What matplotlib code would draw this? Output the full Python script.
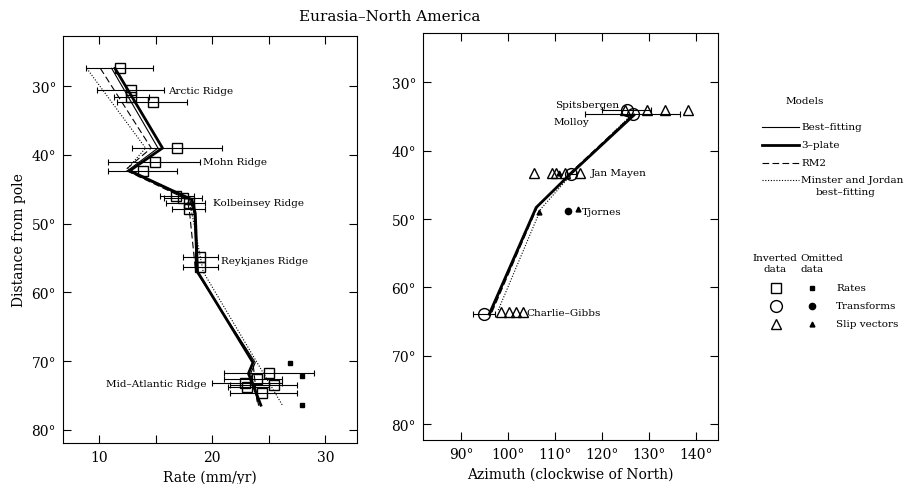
import matplotlib
matplotlib.use("Agg")
import matplotlib.pyplot as plt
from matplotlib.lines import Line2D

plt.rcParams['font.family'] = ['DejaVu Serif']
plt.rcParams['font.size'] = 9

# ---- left panel: spreading rates (lat = distance from pole, deg) ----
rate_lat = [27.4, 30.5, 31.5, 32.3, 39.0, 41.0, 42.4, 46.0, 46.3, 47.0, 47.9,
            54.9, 56.3, 71.7, 72.6, 73.2, 73.5, 73.8, 74.6]
rate_val = [11.8, 12.8, 12.8, 14.8, 16.9, 14.9, 13.9, 16.8, 17.4, 17.9, 17.9,
            18.9, 18.9, 25.0, 24.0, 22.9, 25.5, 23.1, 24.4]
rate_lo = [8.8, 9.8, 11.3, 11.6, 12.9, 10.8, 10.8, 15.4, 15.7, 15.9, 16.4,
           17.4, 17.4, 21.0, 21.0, 20.0, 21.6, 21.4, 21.6]
rate_hi = [14.8, 15.7, 14.4, 17.8, 20.9, 18.9, 16.9, 18.4, 19.1, 19.4, 19.4,
           20.5, 20.5, 29.0, 26.2, 26.2, 27.5, 25.0, 27.5]
omit_rate_lat = [70.2, 72.1, 76.4]
omit_rate_val = [26.9, 27.9, 27.9]

# model rate curves: (lat list, rate list)
best_rate = ([27.4, 39.0, 42.3, 46.5, 48.5, 57.0, 70.2, 71.8, 76.4],
             [11.1, 15.2, 12.5, 18.0, 18.4, 18.6, 23.8, 23.4, 24.1])
three_rate = ([27.4, 39.0, 42.3, 46.5, 48.5, 57.0, 70.2, 71.8, 76.4],
              [11.4, 15.6, 12.7, 18.2, 18.5, 18.7, 23.6, 23.2, 24.3])
rm2_rate = ([27.4, 39.0, 42.2, 46.5, 48.5, 56.5, 70.2, 76.4],
            [10.1, 14.6, 12.3, 17.8, 18.0, 18.5, 23.6, 24.0])
mj_rate = ([27.4, 39.0, 42.0, 46.5, 48.5, 57.0, 76.4],
           [8.9, 14.1, 12.5, 17.9, 18.2, 19.2, 26.2])

# ---- right panel: azimuths ----
tf_lat = [34.0, 34.7, 43.4, 63.9]
tf_az = [125.3, 126.5, 113.5, 94.9]
tf_lo = [120.1, 116.4, 112.5, 92.6]
tf_hi = [130.5, 136.6, 114.5, 97.2]
omit_tf_lat = [48.8]
omit_tf_az = [112.8]
sv_lat = [34.0, 34.0, 34.0, 34.0, 43.2, 43.2, 43.2, 43.2, 43.2,
          63.6, 63.6, 63.6, 63.6]
sv_az = [125.0, 129.5, 133.4, 138.4, 105.5, 109.3, 110.2, 112.1, 115.3,
         98.5, 100.2, 101.6, 103.1]
omit_sv_lat = [43.2, 48.5, 48.9]
omit_sv_az = [110.9, 115.0, 106.6]

best_az = ([34.8, 43.4, 48.3, 63.9], [126.6, 113.2, 106.1, 96.2])
three_az = ([34.8, 43.4, 48.3, 63.9], [126.8, 113.3, 106.0, 96.0])
rm2_az = ([34.8, 43.4, 48.3, 63.9], [126.4, 113.0, 106.2, 96.4])
mj_az = ([34.8, 43.4, 48.5, 63.5], [126.2, 113.6, 107.0, 97.8])

left_labels = [("Arctic Ridge", 16.1, 30.6, "left"),
               ("Mohn Ridge", 19.2, 41.0, "left"),
               ("Kolbeinsey Ridge", 20.1, 46.9, "left"),
               ("Reykjanes Ridge", 20.8, 55.4, "left"),
               ("Mid\u2013Atlantic Ridge", 19.5, 73.2, "right")]
right_labels = [("Spitsbergen", 110.0, 33.2), ("Molloy", 109.6, 35.8),
                ("Jan Mayen", 117.7, 43.2), ("Tjornes", 115.7, 48.9),
                ("Charlie\u2013Gibbs", 104.0, 63.6)]

fig = plt.figure(figsize=(9.06, 4.85), dpi=100)
axl = fig.add_axes([63/906, 1-444/485, 294/906, 407/485])
axr = fig.add_axes([423/906, 1-441/485, 295/906, 407/485])

styles = [dict(color='k', lw=0.8, ls='-'),
          dict(color='k', lw=2.0, ls='-'),
          dict(color='k', lw=0.8, ls=(0, (6, 3))),
          dict(color='k', lw=0.8, ls=(0, (1, 1.5)))]

for (lat, val), st in zip([best_rate, three_rate, rm2_rate, mj_rate], styles):
    axl.plot(val, lat, **st, zorder=2)
xerr = [[v - lo for v, lo in zip(rate_val, rate_lo)],
        [hi - v for v, hi in zip(rate_val, rate_hi)]]
axl.errorbar(rate_val, rate_lat, xerr=xerr, fmt='none', ecolor='k',
             elinewidth=0.8, capsize=2, capthick=0.8, zorder=3)
axl.plot(rate_val, rate_lat, 's', ms=6.5, mfc='none', mec='k', mew=1.0, zorder=4)
axl.plot(omit_rate_val, omit_rate_lat, 's', ms=3.5, color='k', zorder=4)
for txt, x, y, ha in left_labels:
    axl.text(x, y, txt, fontsize=7.5, ha=ha, va='center')

axl.set_xlim(6.8, 32.8)
axl.set_ylim(81.9, 22.7)
axl.set_xticks([10, 20, 30])
axl.set_xticks([15, 25], minor=True)
axl.set_yticks([30, 40, 50, 60, 70, 80])
axl.set_yticklabels([f"{v}\u00b0" for v in [30, 40, 50, 60, 70, 80]])
axl.set_xlabel("Rate (mm/yr)", fontsize=10)
axl.set_ylabel("Distance from pole", fontsize=10)

for (lat, val), st in zip([best_az, three_az, rm2_az, mj_az], styles):
    axr.plot(val, lat, **st, zorder=2)
terr = [[v - lo for v, lo in zip(tf_az, tf_lo)],
        [hi - v for v, hi in zip(tf_az, tf_hi)]]
axr.errorbar(tf_az, tf_lat, xerr=terr, fmt='none', ecolor='k',
             elinewidth=0.8, capsize=2, capthick=0.8, zorder=3)
axr.plot(tf_az, tf_lat, 'o', ms=8.5, mfc='none', mec='k', mew=1.0, zorder=4)
axr.plot(sv_az, sv_lat, '^', ms=6.5, mfc='none', mec='k', mew=1.0, zorder=4)
axr.plot(omit_tf_az, omit_tf_lat, 'o', ms=4.5, color='k', zorder=4)
axr.plot(omit_sv_az, omit_sv_lat, '^', ms=3.5, color='k', zorder=4)
for txt, x, y in right_labels:
    axr.text(x, y, txt, fontsize=7.5, ha='left', va='center')

axr.set_xlim(81.9, 144.7)
axr.set_ylim(82.3, 22.8)
axr.set_xticks([90, 100, 110, 120, 130, 140])
axr.set_xticklabels([f"{v}\u00b0" for v in [90, 100, 110, 120, 130, 140]])
axr.set_yticks([30, 40, 50, 60, 70, 80])
axr.set_yticklabels([f"{v}\u00b0" for v in [30, 40, 50, 60, 70, 80]])
axr.set_xlabel("Azimuth (clockwise of North)", fontsize=10)

for ax in (axl, axr):
    ax.tick_params(which='both', direction='in', top=True, right=True,
                   length=6, width=0.8, labelsize=10, pad=5)
    for sp in ax.spines.values():
        sp.set_linewidth(0.8)

fig.text(390/906, 1-17/485, "Eurasia\u2013North America", fontsize=11,
         ha='center', va='center')

# legend area in pixel units
lg = fig.add_axes([740/906, 0, 166/906, 1])
lg.set_xlim(740, 906)
lg.set_ylim(485, 0)
lg.axis('off')
fs = 7.5
lg.text(805, 101, "Models", fontsize=fs, ha='center', va='center')
model_names = ["Best\u2013fitting", "3\u2013plate", "RM2",
               "Minster and Jordan"]
model_y = [128, 146, 164, 181]
for name, y, st in zip(model_names, model_y, styles):
    lg.add_line(Line2D([762, 799], [y, y], **st))
    lg.text(801, y, name, fontsize=fs, ha='left', va='center')
lg.text(846, 193, "best\u2013fitting", fontsize=fs, ha='center', va='center')

lg.text(775, 259, "Inverted", fontsize=fs, ha='center', va='center')
lg.text(775, 270, "data", fontsize=fs, ha='center', va='center')
lg.text(822, 259, "Omitted", fontsize=fs, ha='center', va='center')
lg.text(812, 270, "data", fontsize=fs, ha='center', va='center')
sym_names = ["Rates", "Transforms", "Slip vectors"]
sym_y = [289, 307, 325]
sym_open = [dict(marker='s', ms=6.5), dict(marker='o', ms=8.5), dict(marker='^', ms=6.5)]
sym_fill = [dict(marker='s', ms=3.5), dict(marker='o', ms=4.5), dict(marker='^', ms=3.5)]
for name, y, so, sf in zip(sym_names, sym_y, sym_open, sym_fill):
    lg.plot([776], [y], ls='none', mfc='none', mec='k', mew=1.0, **so)
    lg.plot([812], [y], ls='none', color='k', **sf)
    lg.text(836, y, name, fontsize=fs, ha='left', va='center')

fig.savefig("out.png", dpi=100)
